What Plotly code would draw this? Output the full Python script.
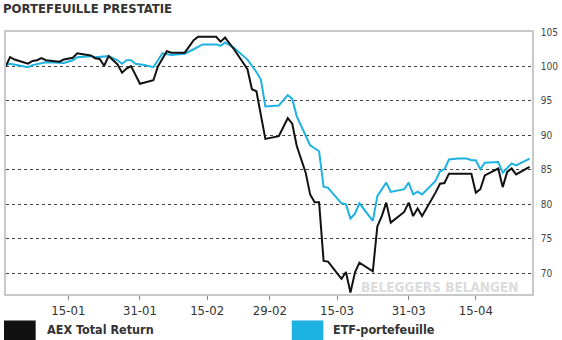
import plotly.graph_objects as go

aex_dates = ["2016-01-01","2016-01-02","2016-01-03","2016-01-06","2016-01-07","2016-01-08","2016-01-09","2016-01-10",
             "2016-01-13","2016-01-14","2016-01-16","2016-01-17","2016-01-20","2016-01-21","2016-01-22","2016-01-23",
             "2016-01-24","2016-01-26","2016-01-27","2016-01-28","2016-01-29","2016-01-31","2016-02-03","2016-02-04",
             "2016-02-06","2016-02-07","2016-02-10","2016-02-12","2016-02-13","2016-02-17","2016-02-18","2016-02-19",
             "2016-02-21","2016-02-24","2016-02-25","2016-02-26","2016-02-28","2016-03-02","2016-03-04","2016-03-05",
             "2016-03-06","2016-03-08","2016-03-09","2016-03-10","2016-03-11","2016-03-12","2016-03-13","2016-03-16",
             "2016-03-17","2016-03-18","2016-03-19","2016-03-20","2016-03-23","2016-03-24","2016-03-25","2016-03-26",
             "2016-03-27","2016-03-30","2016-03-31","2016-04-01","2016-04-02","2016-04-03","2016-04-06","2016-04-07",
             "2016-04-08","2016-04-09","2016-04-14","2016-04-15","2016-04-16","2016-04-17","2016-04-20","2016-04-21",
             "2016-04-22","2016-04-23","2016-04-24","2016-04-27"]
aex_values = [100.0,101.35,101.0,100.4,100.8,100.9,101.2,100.9,
              100.7,101.0,101.26,101.9,101.6,101.2,101.1,100.1,
              101.5,100.3,99.1,99.7,100.05,97.5,98.0,100.0,
              102.2,102.0,102.0,103.8,104.3,104.3,103.6,104.2,
              102.5,99.6,96.7,96.4,89.5,89.9,92.5,91.7,
              88.5,84.6,81.45,80.3,80.3,71.8,71.7,69.2,
              70.2,67.2,70.1,71.55,70.3,76.8,78.3,80.25,
              77.35,78.9,80.25,78.3,79.4,78.3,81.7,83.0,
              83.1,84.45,84.45,81.7,82.2,84.2,85.2,82.5,
              84.7,85.2,84.35,85.45]

etf_dates = ["2016-01-01","2016-01-02","2016-01-06","2016-01-07","2016-01-10","2016-01-14","2016-01-16","2016-01-17",
             "2016-01-20","2016-01-21","2016-01-24","2016-01-26","2016-01-27","2016-01-28","2016-01-29","2016-01-30",
             "2016-02-01","2016-02-03","2016-02-04","2016-02-05","2016-02-07","2016-02-10","2016-02-12","2016-02-13",
             "2016-02-14","2016-02-17","2016-02-18","2016-02-19","2016-02-21","2016-02-24","2016-02-26","2016-02-27",
             "2016-02-28","2016-03-02","2016-03-04","2016-03-05","2016-03-06","2016-03-09","2016-03-11","2016-03-12",
             "2016-03-13","2016-03-16","2016-03-17","2016-03-18","2016-03-19","2016-03-20","2016-03-23","2016-03-24",
             "2016-03-26","2016-03-27","2016-03-30","2016-03-31","2016-04-01","2016-04-02","2016-04-03","2016-04-06",
             "2016-04-07","2016-04-08","2016-04-09","2016-04-11","2016-04-13","2016-04-14","2016-04-15","2016-04-16",
             "2016-04-17","2016-04-20","2016-04-21","2016-04-23","2016-04-24","2016-04-27"]
etf_values = [100.2,100.4,99.9,100.2,100.6,100.5,100.9,101.35,
              101.5,101.35,101.5,100.9,100.4,100.9,100.9,100.4,
              100.2,99.9,100.9,101.9,101.65,101.85,102.5,102.85,
              103.2,103.2,103.0,103.5,102.7,101.0,99.2,98.1,
              94.2,94.35,95.85,95.3,92.8,88.55,87.7,82.55,
              82.4,80.15,80.0,77.95,78.65,80.15,77.6,81.2,
              83.15,81.8,82.2,83.15,81.45,81.85,81.45,83.4,
              84.8,85.1,86.5,86.65,86.65,86.4,86.4,85.1,
              86.05,86.15,84.6,85.95,85.65,86.65]

tick_dates = ["2016-01-15","2016-01-31","2016-02-15","2016-02-29","2016-03-15","2016-03-31","2016-04-15"]
tick_labels = ["15-01","31-01","15-02","29-02","15-03","31-03","15-04"]
y_ticks = [70, 75, 80, 85, 90, 95, 100, 105]

title = "PORTEFEUILLE PRESTATIE"
series_names = ["AEX Total Return", "ETF-portefeuille"]
colors = ["#111111", "#1db2e2"]

NARROW = "Liberation Sans Narrow, Arial Narrow, DejaVu Sans Condensed, sans-serif"

fig = go.Figure()
fig.add_trace(go.Scatter(x=etf_dates, y=etf_values, mode="lines", name=series_names[1],
                         line=dict(color=colors[1], width=2), showlegend=False))
fig.add_trace(go.Scatter(x=aex_dates, y=aex_values, mode="lines", name=series_names[0],
                         line=dict(color=colors[0], width=2), showlegend=False))

fig.update_layout(
    width=562, height=340,
    margin=dict(l=4, r=26, t=32, b=46),
    paper_bgcolor="white", plot_bgcolor="white",
    font=dict(family=NARROW, color="#333"),
    xaxis=dict(range=["2016-01-01 02:00", "2016-04-27 13:00"], tickvals=tick_dates, ticktext=tick_labels,
               showgrid=False, zeroline=False, showline=True, mirror=True, linecolor="#c8c8c8", linewidth=1.5,
               ticks="outside", ticklen=4, tickcolor="#888", tickwidth=1,
               tickfont=dict(family=NARROW, size=13, color="#333")),
    yaxis=dict(range=[67, 105], side="right", tickvals=y_ticks, showgrid=True, gridcolor="#444",
               griddash="dot", gridwidth=1, zeroline=False, showline=True, mirror=True,
               linecolor="#c8c8c8", linewidth=1.5, ticks="outside", ticklen=5, tickcolor="rgba(0,0,0,0)",
               tickfont=dict(family=NARROW, size=10, color="#444")),
)

fig.add_annotation(text="<b>" + title + "</b>", xref="paper", yref="paper", x=-5/532, y=1 + 24/262,
                   xanchor="left", yanchor="middle", showarrow=False,
                   font=dict(family=NARROW, size=13, color="#333"))
fig.add_annotation(text="<b>BELEGGERS BELANGEN</b>", xref="paper", yref="paper", x=(442 - 4)/532, y=(294 - 287)/262,
                   xanchor="center", yanchor="middle", showarrow=False,
                   font=dict(family=NARROW, size=13.5, color="#dcdcdc"))

# legend swatches and labels (paper coordinates)
leg = [(2, 34, 43), (293, 325, 333)]
for (x0, x1, tx), name, col in zip(leg, series_names, colors):
    fig.add_shape(type="rect", xref="paper", yref="paper",
                  x0=(x0 - 4)/532, x1=(x1 - 4)/532, y0=(294 - 341)/262, y1=(294 - 320.5)/262,
                  fillcolor=col, line=dict(width=0))
    fig.add_annotation(text="<b>" + name + "</b>", xref="paper", yref="paper", x=(tx - 4)/532, y=(294 - 329)/262,
                       xanchor="left", yanchor="middle", showarrow=False,
                       font=dict(family=NARROW, size=12.5, color="#333"))

fig.write_html("out.html")
